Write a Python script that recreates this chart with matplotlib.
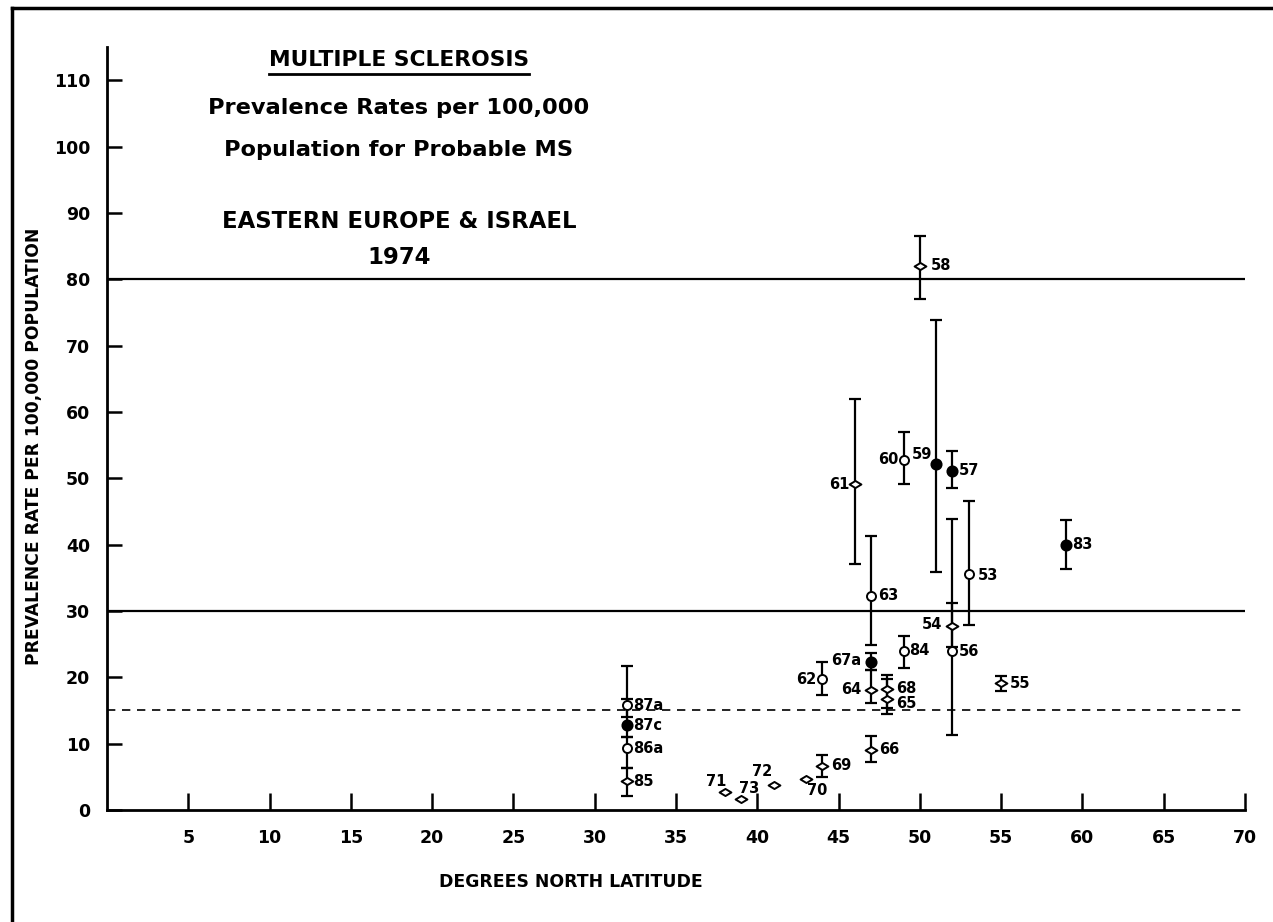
import matplotlib
matplotlib.use("Agg")
import matplotlib.pyplot as plt
import numpy as np
from matplotlib.path import Path
from matplotlib.lines import Line2D

plt.rcParams['font.family'] = ['DejaVu Sans']
plt.rcParams['font.weight'] = 'bold'

# ---------------- data ----------------
labels = ["53", "54", "55", "56", "57", "58", "59", "60", "61", "62", "63", "64", "65",
          "66", "67a", "68", "69", "70", "71", "72", "73", "83", "84", "85", "86a", "87a", "87c"]
latitude = [53, 52, 55, 52, 52, 50, 51, 49, 46, 44, 47, 47, 48,
            47, 47, 48, 44, 43, 38, 41, 39, 59, 49, 32, 32, 32, 32]
rate = [35.5, 27.8, 19.1, 23.9, 51.1, 82.0, 52.1, 52.8, 49.1, 19.7, 32.3, 18.1, 16.8,
        9.1, 22.3, 18.3, 6.7, 4.6, 2.7, 3.8, 1.6, 40.0, 24.0, 4.3, 9.3, 15.8, 12.8]
rate_low = [27.9, 24.5, 18.0, 11.3, 48.6, 77.0, 35.8, 49.1, 37.1, 17.4, 24.9, 16.1, 14.5,
            7.2, 21.1, 15.3, 4.9, np.nan, np.nan, np.nan, np.nan, 36.3, 21.4, 2.1, 6.3, 14.0, 11.0]
rate_high = [46.5, 31.2, 20.2, 43.9, 54.1, 86.5, 73.8, 57.0, 61.9, 22.3, 41.3, 21.1, 19.7,
             11.2, 23.6, 20.4, 8.3, np.nan, np.nan, np.nan, np.nan, 43.7, 26.2, 6.3, 11.0, 21.7, 16.7]
# symbol: 'o' open circle, 'd' open diamond, 'f' filled circle
symbol = ["o", "d", "d", "o", "f", "d", "f", "o", "d", "o", "o", "d", "d",
          "d", "f", "d", "d", "d", "d", "d", "d", "f", "o", "d", "o", "o", "f"]
reference_lines = [80, 30]
dashed_line = 15
x_ticks = list(range(5, 75, 5))
y_ticks = list(range(0, 120, 10))

# label placement (offset in pixels from marker, horizontal alignment)
label_place = {
    "59": (-4, -10, "right"), "60": (-5, 0, "right"), "61": (-5, 0, "right"),
    "62": (-6, 0, "right"), "64": (-10, 0, "right"), "67a": (-10, -2, "right"),
    "54": (-10, -1, "right"), "71": (-9, -11, "center"), "72": (-11, -13, "center"),
    "73": (8, -11, "center"), "70": (11, 11, "center"), "58": (11, 0, "left"),
    "65": (9, 5, "left"), "68": (9, 0, "left"), "63": (7, 0, "left"), "53": (9, 1, "left"),
    "66": (8, 0, "left"), "69": (9, 0, "left"), "55": (9, 0, "left"),
}

# ---------------- figure ----------------
W, H = 1273, 922
fig = plt.figure(figsize=(W / 100, H / 100), dpi=100)
ax = fig.add_axes([107 / W, 1 - 810 / H, (1245 - 107) / W, (810 - 47) / H])
ax.set_xlim(0, 70)
ax.set_ylim(0, 115)

for s in ("top", "right"):
    ax.spines[s].set_visible(False)
for s in ("left", "bottom"):
    ax.spines[s].set_linewidth(2.0)

ax.set_xticks(x_ticks)
ax.set_xticklabels([str(t) for t in x_ticks])
ax.set_yticks([t for t in y_ticks if t <= 110])
ax.tick_params(axis="x", direction="in", length=12, width=1.8, pad=14, labelsize=12.5)
ax.tick_params(axis="y", direction="in", length=11, width=1.8, pad=12, labelsize=12.5)

for v in reference_lines:
    ax.axhline(v, color="black", lw=1.6, zorder=1)
ax.axhline(dashed_line, color="black", lw=1.2, ls=(0, (5, 4)), zorder=1)

diamond = Path([(-1, 0), (0, 0.6), (1, 0), (0, -0.6), (-1, 0)],
               [Path.MOVETO, Path.LINETO, Path.LINETO, Path.LINETO, Path.CLOSEPOLY])

for lab, x, y, lo, hi, sym in zip(labels, latitude, rate, rate_low, rate_high, symbol):
    if not np.isnan(lo):
        ax.errorbar([x], [y], yerr=[[y - lo], [hi - y]], fmt="none", ecolor="black",
                    elinewidth=1.6, capsize=4.6, capthick=1.6, zorder=2)
    if sym == "o":
        ax.plot([x], [y], marker="o", ms=6.5, mfc="white", mec="black", mew=1.4, zorder=3)
    elif sym == "f":
        ax.plot([x], [y], marker="o", ms=7.5, mfc="black", mec="black", mew=1.2, zorder=3)
    else:
        ax.plot([x], [y], marker=diamond, ms=8.5, mfc="white", mec="black", mew=1.4, zorder=3)
    dx, dy, ha = label_place.get(lab, (6, 0, "left"))
    ax.annotate(lab, (x, y), xytext=(dx * 0.72, -dy * 0.72), textcoords="offset points",
                ha=ha, va="center", fontsize=10.5, fontweight="bold", zorder=4)

# axis labels
fig.text(571 / W, 1 - 882 / H, "DEGREES NORTH LATITUDE", ha="center", va="center",
         fontsize=12.4, fontweight="bold")
fig.text(34 / W, 1 - 446 / H, "PREVALENCE RATE PER 100,000 POPULATION", ha="center",
         va="center", rotation=90, fontsize=12.3, fontweight="bold")

# title block
cx = 399 / W
t1 = fig.text(cx, 1 - 60 / H, "MULTIPLE SCLEROSIS", ha="center", va="center",
              fontsize=15.7, fontweight="bold")
fig.text(cx, 1 - 108 / H, "Prevalence Rates per 100,000", ha="center", va="center",
         fontsize=16.2, fontweight="bold")
fig.text(cx, 1 - 150 / H, "Population for Probable MS", ha="center", va="center",
         fontsize=16.2, fontweight="bold")
fig.text(cx, 1 - 222 / H, "EASTERN EUROPE & ISRAEL", ha="center", va="center",
         fontsize=16.4, fontweight="bold")
fig.text(cx, 1 - 258 / H, "1974", ha="center", va="center",
         fontsize=16.4, fontweight="bold")

fig.canvas.draw()
bb = t1.get_window_extent()
fig.add_artist(Line2D([bb.x0 / W, bb.x1 / W], [1 - 74 / H, 1 - 74 / H],
                      transform=fig.transFigure, color="black", lw=2.0))

# outer frame (left and top)
fig.add_artist(Line2D([12 / W, 12 / W], [0, 1 - 8 / H], transform=fig.transFigure,
                      color="black", lw=2.5))
fig.add_artist(Line2D([12 / W, 1], [1 - 8 / H, 1 - 8 / H], transform=fig.transFigure,
                      color="black", lw=2.5))

fig.savefig("out.png", dpi=100)
